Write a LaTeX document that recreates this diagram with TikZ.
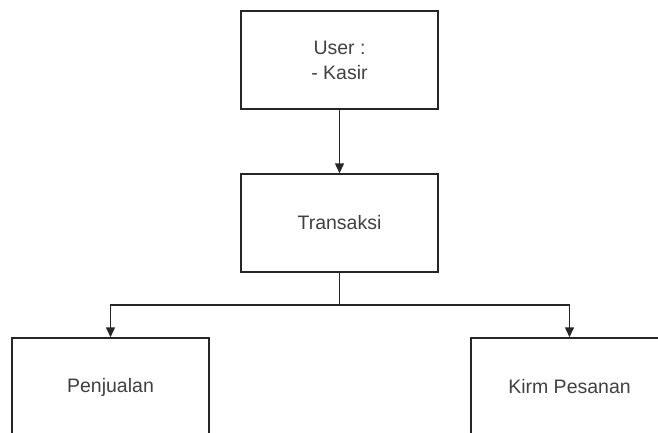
\documentclass[tikz,border=0pt]{standalone}
\usepackage{fontspec}
\setmainfont{Liberation Sans}
\usetikzlibrary{arrows.meta}
\begin{document}
\begin{tikzpicture}[x=1pt,y=-1pt,
  box/.style={draw=black!85,line width=1.5pt,minimum width=197pt,minimum height=98pt,inner sep=0pt,align=center,
    font=\fontsize{19.5pt}{25pt}\selectfont,text=black!75},
  conn/.style={draw=black!85,line width=1.5pt},
  arr/.style={conn,-{Triangle[length=10pt,width=9pt]}}]
\useasboundingbox (0,0) rectangle (658,432);
\clip (0,0) rectangle (658,432);
\node[box] (user) at (339.5,60) {User :\\- Kasir};
\node[box] (trans) at (339.5,223) {Transaksi};
\node[box] (penj) at (110.5,387) {Penjualan};
\node[box] (kirim) at (569.5,387) {Kirm Pesanan};
\coordinate (split) at (339.5,305);
\draw[arr] (user.south) -- (trans.north);
\draw[conn] (trans.south) -- (split);
\draw[arr] (split) -| (penj.north);
\draw[arr] (split) -| (kirim.north);
\end{tikzpicture}
\end{document}
